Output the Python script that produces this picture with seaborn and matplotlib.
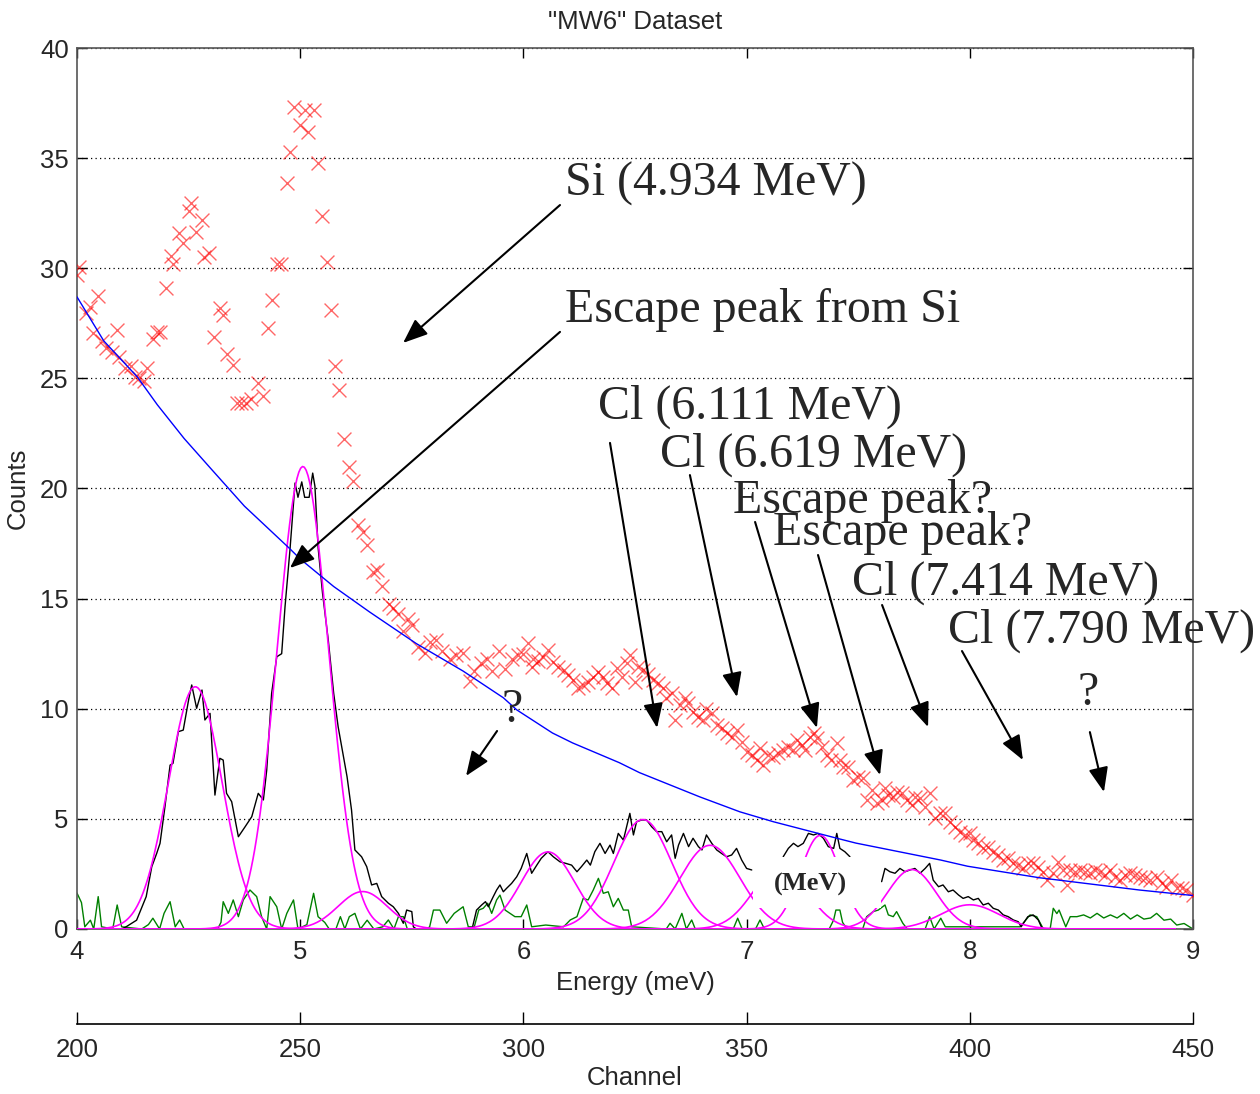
import numpy as np
import pandas as pd
import matplotlib
matplotlib.use("Agg")
import matplotlib.pyplot as plt
import seaborn as sns
from matplotlib.patches import Rectangle

sns.set_theme(style="white")
plt.rcParams['font.family'] = ['Liberation Sans', 'DejaVu Sans']

# ---------------- data ----------------
red_energy = [4.0, 4.01, 4.04, 4.06, 4.07, 4.095, 4.11, 4.13, 4.155, 4.18, 4.19, 4.215, 4.24, 4.26, 4.28, 4.30,
              4.315, 4.34, 4.36, 4.37, 4.40, 4.42, 4.43, 4.455, 4.475, 4.50, 4.51, 4.535, 4.56, 4.57, 4.59, 4.615,
              4.64, 4.655, 4.67, 4.70, 4.715, 4.735, 4.755, 4.78, 4.81, 4.835, 4.857, 4.875, 4.895, 4.915, 4.94,
              4.955, 4.97, 5.0, 5.022, 5.036, 5.06, 5.08, 5.096, 5.119, 5.138, 5.156, 5.175, 5.198, 5.22, 5.235,
              5.26, 5.28, 5.30, 5.325, 5.345, 5.365, 5.40, 5.417, 5.44, 5.46, 5.484, 5.50, 5.53, 5.56, 5.58, 5.61,
              5.634, 5.67, 5.70, 5.73, 5.76, 5.78, 5.81, 5.835, 5.858, 5.89, 5.917, 5.947, 5.977, 6.0, 6.022,
              6.037, 6.044, 6.067, 6.09, 6.11, 6.134, 6.157, 6.18, 6.20, 6.224, 6.246, 6.268, 6.29, 6.313, 6.336,
              6.358, 6.376, 6.396, 6.418, 6.44, 6.463, 6.477, 6.50, 6.515, 6.537, 6.56, 6.58, 6.604, 6.627, 6.64,
              6.664, 6.68, 6.70, 6.724, 6.739, 6.76, 6.784, 6.806, 6.82, 6.844, 6.866, 6.888, 6.91, 6.933, 6.955,
              6.978, 7.0, 7.023, 7.045, 7.06, 7.075, 7.097, 7.12, 7.142, 7.164, 7.187, 7.21, 7.224, 7.247, 7.262,
              7.284, 7.30, 7.317, 7.336, 7.36, 7.38, 7.404, 7.418, 7.433, 7.456, 7.478, 7.50, 7.523, 7.538, 7.56,
              7.583, 7.605, 7.62, 7.635, 7.657, 7.672, 7.695, 7.717, 7.74, 7.754, 7.777, 7.80, 7.82, 7.844, 7.866,
              7.89, 7.911, 7.934, 7.956, 7.978, 8.0, 8.016, 8.038, 8.06, 8.083, 8.105, 8.128, 8.15, 8.172, 8.195,
              8.217, 8.24, 8.262, 8.284, 8.307, 8.33, 8.347, 8.374, 8.397, 8.419, 8.437, 8.45, 8.47, 8.494, 8.516,
              8.538, 8.56, 8.583, 8.605, 8.628, 8.65, 8.673, 8.695, 8.718, 8.74, 8.763, 8.785, 8.807, 8.837, 8.86,
              8.88, 8.90, 8.927, 8.95, 8.97, 9.0]
red_counts = [29.7, 30.06, 27.95, 28.25, 27.05, 28.75, 26.7, 26.4, 26.2, 27.2, 25.98, 25.47, 25.56, 25.07, 25.0, 24.9,
              25.48, 26.8, 27.1, 27.1, 29.1, 30.55, 30.2, 31.6, 31.15, 32.6, 32.94, 31.65, 32.2, 30.5, 30.67, 26.86,
              28.2, 27.87, 26.1, 25.6, 23.86, 23.86, 23.9, 24.08, 24.8, 24.19, 27.3, 28.55, 30.2, 30.2, 33.85,
              35.28, 37.3, 36.5, 37.2, 36.2, 37.2, 34.77, 32.38, 30.28, 28.1, 25.58, 24.45, 22.26, 20.98, 20.32,
              18.35, 18.02, 17.42, 16.23, 16.3, 15.57, 14.76, 14.58, 14.31, 13.54, 14.08, 13.82, 12.79, 12.53, 13.05, 13.14,
              12.6, 12.25, 12.44, 12.53, 11.26, 11.7, 12.07, 12.26, 11.7, 12.6, 11.8, 12.26, 12.44, 12.5, 13.0,
              11.9, 12.24, 12.18, 12.36, 12.66, 12.13, 11.9, 11.76, 11.53, 11.3, 10.93, 11.08, 11.23, 11.45, 11.68,
              11.45, 11.15, 10.93, 11.83, 11.45, 12.06, 12.44, 11.23, 11.9, 11.76, 11.6, 11.3, 11.15, 10.93, 10.47,
              10.7, 9.49, 10.17, 10.47, 10.25, 9.86, 9.64, 9.49, 10.01, 9.79, 9.26, 9.11, 8.88, 8.73, 9.03,
              8.5, 8.05, 7.9, 7.67, 8.2, 7.44, 7.9, 7.82, 7.97, 8.12, 8.27, 8.12, 8.58, 8.35, 8.12,
              8.73, 8.88, 8.66, 8.27, 7.9, 7.67, 8.46, 7.67, 7.37, 7.37, 6.76, 6.91, 6.84, 5.86, 6.31,
              5.7, 5.86, 6.39, 6.08, 6.0, 6.23, 6.16, 5.86, 5.63, 6.0, 5.93, 5.55, 6.16, 5.02, 5.25,
              5.25, 4.87, 4.64, 4.42, 4.27, 4.34, 4.04, 3.89, 3.66, 3.74, 3.51, 3.36, 3.13, 3.21, 2.98,
              2.9, 2.75, 2.98, 2.98, 2.83, 2.6, 2.22, 2.53, 3.06, 2.68, 2.0, 2.68, 2.6, 2.68, 2.6,
              2.53, 2.68, 2.6, 2.45, 2.68, 2.37, 2.22, 2.45, 2.53, 2.45, 2.37, 2.3, 2.22, 2.37, 2.07,
              1.92, 2.22, 1.85, 1.85, 1.77, 1.54]

bg_energy = [4.0, 4.12, 4.27, 4.36, 4.48, 4.6, 4.75, 4.95, 5.0, 5.15, 5.31, 5.52, 5.73, 5.91, 5.97, 6.13, 6.22,
             6.43, 6.52, 6.79, 6.97, 7.12, 7.42, 7.49, 7.87, 7.99, 8.31, 8.76, 9.0]
bg_counts = [28.7, 26.7, 25.07, 23.8, 22.27, 20.9, 19.2, 17.3, 16.8, 15.55, 14.4, 12.96, 11.71, 10.5, 9.95, 8.9, 8.45,
             7.55, 7.1, 6.0, 5.32, 4.87, 4.08, 3.9, 3.13, 2.85, 2.33, 1.77, 1.52]

resid_energy = [4.0, 4.2, 4.22, 4.267, 4.31, 4.335, 4.357, 4.372, 4.394, 4.417, 4.43, 4.454, 4.476, 4.5, 4.514,
                4.536, 4.56, 4.573, 4.596, 4.618, 4.64, 4.655, 4.67, 4.693, 4.723, 4.753, 4.783, 4.812, 4.835,
                4.85, 4.872, 4.895, 4.917, 4.932, 4.954, 4.97, 4.977, 4.99, 5.007, 5.02, 5.04, 5.056, 5.066,
                5.08, 5.10, 5.126, 5.15, 5.17, 5.186, 5.21, 5.23, 5.245, 5.275, 5.298, 5.32, 5.343, 5.365,
                5.395, 5.417, 5.44, 5.462, 5.477, 5.5, 5.507, 5.52, 5.77, 5.79, 5.813, 5.83, 5.843, 5.865, 5.88,
                5.895, 5.91, 5.925, 5.947, 5.97, 5.99, 6.015, 6.037, 6.06, 6.08, 6.11, 6.134, 6.164, 6.19,
                6.216, 6.24, 6.26, 6.284, 6.3, 6.32, 6.343, 6.366, 6.388, 6.403, 6.425, 6.448, 6.477, 6.493,
                6.507, 6.53, 6.552, 6.575, 6.597, 6.62, 6.642, 6.664, 6.68, 6.695, 6.717, 6.74, 6.76, 6.784,
                6.8, 6.82, 6.844, 6.866, 6.888, 6.91, 6.933, 6.955, 6.978, 7.0, 7.023,
                np.nan,
                7.164, 7.187, 7.21, 7.23, 7.254, 7.277, 7.3, 7.32, 7.344, 7.366, 7.39, 7.404, 7.418, 7.44, 7.463,
                np.nan,
                7.605, 7.62, 7.642, 7.665, 7.687, 7.71, 7.732, 7.754, 7.777, 7.8, 7.82, 7.836, 7.86, 7.88,
                7.904, 7.925, 7.95, 7.97, 7.993, 8.016, 8.038, 8.06, 8.083, 8.105, 8.128, 8.15, 8.172, 8.195,
                8.217, 8.23, 8.26, 8.284, 8.307, 8.325]
resid_counts = [0.0, 0.0, 0.1, 0.4, 1.47, 2.83, 3.43, 3.89, 5.55, 7.44, 7.52, 8.96, 9.03, 10.4, 11.08,
                10.02, 10.85, 9.49, 9.79, 6.08, 7.75, 7.67, 6.16, 5.78, 4.19, 4.64, 5.1, 6.16, 5.86,
                7.22, 10.7, 12.36, 12.5, 14.63, 17.2, 19.3, 20.25, 19.6, 20.3, 19.6, 19.6, 20.7, 20.1,
                17.35, 15.25, 13.1, 10.7, 9.18, 8.28, 6.91, 5.4, 3.59, 3.28, 2.83, 2.0, 2.07, 1.47,
                1.17, 1.01, 0.71, 0.26, 0.86, 0.79, 0.1, 0.0, 0.0, 0.86, 1.09, 1.24, 1.01, 1.47, 1.77,
                2.0, 1.69, 1.85, 2.07, 2.37, 2.75, 3.43, 2.53, 2.9, 3.21, 3.51, 3.28, 3.05, 2.98,
                2.9, 2.6, 2.83, 3.13, 2.9, 3.51, 3.89, 3.43, 3.81, 3.43, 4.34, 4.04, 5.25, 4.27,
                4.87, 4.95, 4.95, 4.64, 4.42, 4.42, 3.96, 4.27, 3.21, 3.81, 4.34, 3.74, 4.12, 3.74,
                3.59, 4.27, 3.89, 3.59, 3.43, 3.28, 3.36, 3.66, 3.13, 2.75, 2.68,
                np.nan,
                3.28, 3.66, 3.89, 3.74, 3.89, 4.34, 4.27, 4.34, 4.12, 3.74, 3.66, 4.34, 3.66, 3.51, 3.28,
                np.nan,
                2.15, 2.75, 2.6, 2.53, 2.75, 2.6, 2.68, 2.75, 2.53, 2.75, 2.98, 2.22, 1.92, 2.0,
                1.69, 1.77, 1.54, 1.39, 1.47, 1.32, 1.39, 1.09, 1.17, 0.94, 0.86, 0.64, 0.56, 0.41,
                0.33, 0.1, 0.56, 0.64, 0.41, 0.0]

noise_energy = [4.0, 4.02, 4.035, 4.06, 4.075, 4.095, 4.11, 4.16, 4.18, 4.20, 4.29, 4.32, 4.34, 4.37, 4.39,
                4.417, 4.44, 4.46, 4.48, 4.63, 4.645, 4.655, 4.678, 4.70, 4.723, 4.745, 4.775, 4.805, 4.827,
                4.85, 4.865, 4.895, 4.917, 4.94, 4.97, 4.99, 5.03, 5.06, 5.08, 5.11, 5.13, 5.16, 5.18, 5.20,
                5.22, 5.245, 5.27, 5.30, 5.33, 5.37, 5.395, 5.42, 5.44, 5.462, 5.48, 5.567, 5.58, 5.597, 5.626,
                5.656, 5.69, 5.73, 5.753, 5.78, 5.80, 5.82, 5.84, 5.858, 5.88, 5.895, 5.918, 5.94, 5.962,
                5.99, 6.015, 6.037, 6.10, 6.18, 6.21, 6.24, 6.268, 6.29, 6.313, 6.336, 6.358, 6.38, 6.403,
                6.425, 6.448, 6.47, 6.485, 6.64, 6.657, 6.68, 6.71, 6.73, 6.754, 6.77, 6.94, 6.96, 6.98,
                7.04, 7.06, 7.08, 7.37, 7.39, 7.40, 7.418, 7.43, 7.45, 7.52, 7.538, 7.567, 7.59, 7.62, 7.635,
                7.657, 7.672, 7.70, 7.72, 7.80, 7.82, 7.84, 7.87, 7.89, 8.016, 8.225, 8.27, 8.30, 8.33, 8.36,
                8.374, 8.39, 8.40, 8.43, 8.45, 8.48, 8.51, 8.54, 8.57, 8.60, 8.63, 8.66, 8.69, 8.72, 8.75,
                8.78, 8.81, 8.837, 8.87, 8.90, 8.927, 8.96, 9.0]
noise_counts = [1.63, 1.2, 0.1, 0.4, 0.0, 1.47, 0.1, 0.0, 1.09, 0.1, 0.0, 0.2, 0.49, 0.0, 0.71,
                1.24, 0.1, 0.41, 0.0, 0.0, 0.3, 1.24, 0.71, 1.32, 0.56, 1.32, 1.77, 1.47, 0.56,
                0.0, 1.47, 1.01, 0.0, 0.71, 1.32, 0.0, 0.2, 1.62, 0.56, 0.3, 0.0, 0.0, 0.56, 0.0,
                0.56, 0.71, 0.0, 0.4, 0.0, 0.1, 0.41, 0.0, 0.56, 0.56, 0.0, 0.0, 0.1, 0.86, 0.86,
                0.26, 0.71, 1.01, 0.1, 0.1, 0.86, 0.94, 1.17, 0.71, 1.32, 1.54, 0.86, 0.71, 0.56,
                0.56, 1.09, 0.1, 0.18, 0.1, 0.41, 0.56, 1.39, 1.32, 1.77, 2.3, 1.62, 1.69, 1.01,
                1.39, 0.86, 0.86, 0.1, 0.0, 0.26, 0.0, 0.71, 0.0, 0.41, 0.0, 0.0, 0.49, 0.0,
                0.0, 0.41, 0.0, 0.0, 0.41, 0.86, 0.86, 0.3, 0.0, 0.0, 0.56, 0.79, 0.86, 1.09, 0.64,
                0.56, 0.79, 0.26, 0.0, 0.0, 0.56, 0.0, 0.49, 0.1, 0.1, 0.1, 0.64, 0.56, 0.0, 0.0,
                0.94, 0.7, 0.86, 0.1, 0.56, 0.56, 0.64, 0.5, 0.71, 0.5, 0.64, 0.5, 0.71, 0.45, 0.64,
                0.45, 0.5, 0.71, 0.4, 0.45, 0.18, 0.25, 0.0]

# Gaussian peak fits: centre (MeV), height (counts), width (MeV)
peak_center = [4.53, 5.012, 5.28, 6.11, 6.535, 6.836, 7.15, 7.33, 7.74, 8.0]
peak_height = [11.0, 21.0, 1.7, 3.5, 4.97, 3.8, 2.8, 4.25, 2.7, 1.1]
peak_width = [0.12, 0.115, 0.11, 0.12, 0.13, 0.135, 0.12, 0.09, 0.11, 0.13]

energy_ticks = [4, 5, 6, 7, 8, 9]
count_ticks = [0, 5, 10, 15, 20, 25, 30, 35, 40]
channel_ticks = [200, 250, 300, 350, 400, 450]

# ---------------- figure ----------------
W, H = 1260, 1094
fig = plt.figure(figsize=(W / 100, H / 100), dpi=100)
L, R, T, B = 77, 1193, 48, 929
ax = fig.add_axes([L / W, 1 - B / H, (R - L) / W, (B - T) / H])

df_red = pd.DataFrame({"E": red_energy, "C": red_counts})
sns.scatterplot(data=df_red, x="E", y="C", marker="x", s=100, color="#ff0000",
                linewidth=1.0, alpha=0.6, ax=ax, zorder=3, legend=False)

df_bg = pd.DataFrame({"E": bg_energy, "C": bg_counts})
sns.lineplot(data=df_bg, x="E", y="C", color="#0000ff", lw=1.0, ax=ax, zorder=3,
             sort=False, estimator=None, legend=False)

ax.plot(noise_energy, noise_counts, color="#008000", lw=1.0, zorder=2)
ax.plot(resid_energy, resid_counts, color="black", lw=1.0, zorder=2.5)

e_grid = np.linspace(4.0, 8.92, 600)
for c, h, w in zip(peak_center, peak_height, peak_width):
    g = h * np.exp(-0.5 * ((e_grid - c) / w) ** 2)
    ax.plot(e_grid, g, color="#ff00ff", lw=1.2, zorder=2.7)

SANS = 18.5
ax.set_xlim(4, 9)
ax.set_ylim(0, 40)
ax.set_xticks(energy_ticks)
ax.set_yticks(count_ticks)
ax.set_xticklabels([str(t) for t in energy_ticks])
ax.set_yticklabels([str(t) for t in count_ticks])
ax.tick_params(axis="both", which="both", direction="in", length=7, width=1, color="black",
               labelsize=SANS, top=True, right=True, bottom=True, left=True)
ax.tick_params(axis="x", pad=8)
ax.tick_params(axis="y", pad=6)
ax.yaxis.grid(True, color="black", linestyle=(0, (1, 2.6)), lw=0.9)
ax.xaxis.grid(False)
for s in ax.spines.values():
    s.set_color("#555555")
    s.set_linewidth(1.2)
ax.set_xlabel("Energy (meV)", fontsize=SANS, labelpad=5)
ax.set_ylabel("Counts", fontsize=SANS, labelpad=7)
ax.set_title('"MW6" Dataset', fontsize=SANS, pad=14)

# white patch with "(MeV)" label
ax.add_patch(Rectangle((7.03, 0.95), 0.57, 2.32, facecolor="white", edgecolor="none", zorder=4))
ax.text(7.284, 2.04, "(MeV)", fontsize=19, fontweight="bold", family=["Liberation Serif"],
        ha="center", va="center", zorder=5)

# annotation texts
serif = ["Liberation Serif", "DejaVu Serif"]
labels = [("Si (4.934 MeV)", 6.186, 33.85),
          ("Escape peak from Si", 6.186, 28.09),
          ("Cl (6.111 MeV)", 6.334, 23.73),
          ("Cl (6.619 MeV)", 6.612, 21.51),
          ("Escape peak?", 6.939, 19.42),
          ("Escape peak?", 7.118, 17.97),
          ("Cl (7.414 MeV)", 7.472, 15.74),
          ("Cl (7.790 MeV)", 7.902, 13.56)]
for txt, x, y in labels:
    ax.text(x, y, txt, fontsize=34.5, family=serif, ha="left", va="center", zorder=6, clip_on=False)
for x, y in [(5.949, 9.93), (8.53, 10.7)]:
    ax.text(x, y, "?", fontsize=34.5, family=serif, ha="center", va="center", zorder=6)

arrows = [((6.164, 32.87), (5.461, 26.61)),
          ((6.164, 27.11), (4.954, 16.39)),
          ((6.388, 22.07), (6.599, 9.13)),
          ((6.746, 20.61), (6.957, 10.53)),
          ((7.038, 18.48), (7.315, 9.13)),
          ((7.32, 16.98), (7.598, 6.99)),
          ((7.607, 14.71), (7.813, 9.17)),
          ((7.965, 12.62), (8.238, 7.67)),
          ((8.538, 8.94), (8.601, 6.22)),
          ((5.882, 8.99), (5.743, 6.95))]
for tail, head in arrows:
    ax.annotate("", xy=head, xytext=tail,
                arrowprops=dict(arrowstyle="-|>,head_length=0.75,head_width=0.3", color="black",
                                lw=1.5, mutation_scale=20, shrinkA=0, shrinkB=0), zorder=6)

# channel axis
ch_y = 1024
ax2 = fig.add_axes([L / W, 1 - ch_y / H, (R - L) / W, 0.0005])
ax2.set_xlim(200, 450)
ax2.set_yticks([])
ax2.set_xticks(channel_ticks)
ax2.set_xticklabels([str(t) for t in channel_ticks])
for side in ["top", "left", "right"]:
    ax2.spines[side].set_visible(False)
ax2.spines["bottom"].set_color("black")
ax2.spines["bottom"].set_linewidth(1.2)
ax2.patch.set_alpha(0)
ax2.tick_params(axis="x", direction="in", length=9, width=1, color="black", labelsize=SANS,
                pad=10, bottom=True, top=False)
ax2.set_xlabel("Channel", fontsize=SANS, labelpad=3)

fig.savefig("out.png", dpi=100)
